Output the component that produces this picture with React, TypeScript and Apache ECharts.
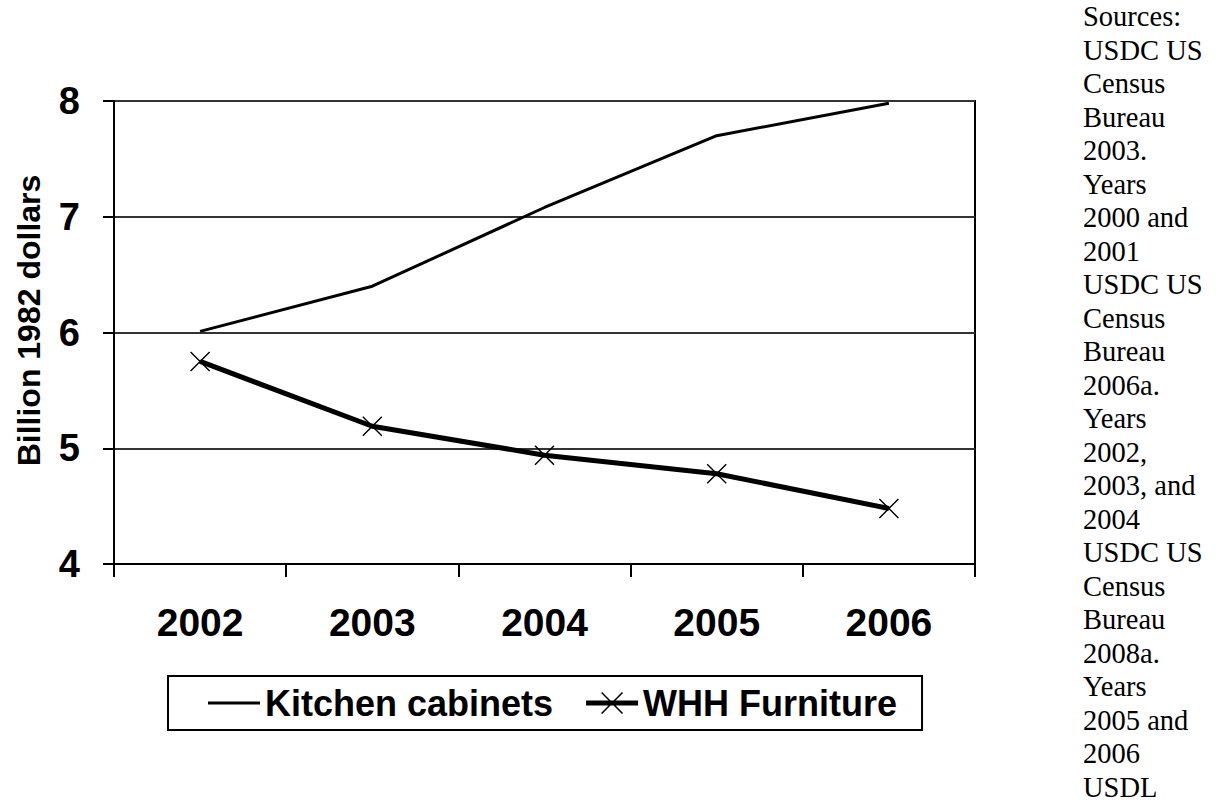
import React, { useEffect, useRef } from "react";
import * as echarts from "echarts";

// Years on the category axis
const years = ["2002", "2003", "2004", "2005", "2006"];

// Shipments, billion 1982 dollars
const kitchenCabinets = [6.01, 6.4, 7.08, 7.7, 7.98];
const whhFurniture = [5.75, 5.19, 4.94, 4.78, 4.48];

// Value axis range
const yMin = 4;
const yMax = 8;
const yStep = 1;

// Source note printed down the right-hand side
const sourceLines = [
  "Sources:",
  "USDC US",
  "Census",
  "Bureau",
  "2003.",
  "Years",
  "2000 and",
  "2001",
  "USDC US",
  "Census",
  "Bureau",
  "2006a.",
  "Years",
  "2002,",
  "2003, and",
  "2004",
  "USDC US",
  "Census",
  "Bureau",
  "2008a.",
  "Years",
  "2005 and",
  "2006",
  "USDL",
];

const SANS = "'Liberation Sans', Arial, Helvetica, sans-serif";
const SERIF = "'Liberation Serif', 'Times New Roman', serif";

// thin filled "x" glyph used as the point marker
const crossSymbol =
  "path://M0,1L1,0L10,9L19,0L20,1L11,10L20,19L19,20L10,11L1,20L0,19L9,10Z";

// legend keys: a plain 3px bar, and a 5px bar with the "x" marker on it
const plainKey = "path://M0,0L52,0L52,3L0,3Z";
const crossKey =
  "path://M0,9.5L52,9.5L52,14.5L0,14.5Z" +
  "M15,2.1L16.1,1L26,10.9L35.9,1L37,2.1L27.1,12L37,21.9L35.9,23L26,13.1L16.1,23L15,21.9L24.9,12Z";

export default function App() {
  const ref = useRef<HTMLDivElement>(null);

  useEffect(() => {
    if (!ref.current) return;
    const chart = echarts.init(ref.current, undefined, { renderer: "svg" });

    chart.setOption({
      animation: false,
      backgroundColor: "#ffffff",
      grid: {
        left: 114,
        top: 101,
        width: 861,
        height: 463,
        show: true,
        borderColor: "#000",
        borderWidth: 2,
        backgroundColor: "transparent",
      },
      xAxis: {
        type: "category",
        data: years,
        boundaryGap: true,
        axisLine: { show: true, lineStyle: { color: "#000", width: 2 } },
        axisTick: {
          show: true,
          length: 13,
          lineStyle: { color: "#000", width: 2 },
        },
        axisLabel: {
          margin: 39,
          color: "#000",
          fontFamily: SANS,
          fontWeight: "bold",
          fontSize: 39,
        },
        splitLine: { show: false },
      },
      yAxis: {
        type: "value",
        min: yMin,
        max: yMax,
        interval: yStep,
        name: "Billion 1982 dollars",
        nameLocation: "middle",
        nameRotate: 90,
        nameGap: 69,
        nameTextStyle: {
          color: "#000",
          fontFamily: SANS,
          fontWeight: "bold",
          fontSize: 32,
          padding: [0, 0, 0, 24],
        },
        axisLine: { show: true, lineStyle: { color: "#000", width: 2 } },
        axisTick: {
          show: true,
          length: 11,
          lineStyle: { color: "#000", width: 2 },
        },
        axisLabel: {
          margin: 34,
          color: "#000",
          fontFamily: SANS,
          fontWeight: "bold",
          fontSize: 38,
        },
        splitLine: { show: true, lineStyle: { color: "#333", width: 2 } },
      },
      legend: {
        left: 168,
        top: 676,
        orient: "horizontal",
        padding: [9, 25, 9, 40],
        itemGap: 33,
        itemWidth: 52,
        itemHeight: 24,
        borderColor: "#000",
        borderWidth: 2,
        textStyle: {
          color: "#000",
          fontFamily: SANS,
          fontWeight: "bold",
          fontSize: 36,
        },
        data: [
          { name: "Kitchen cabinets", icon: plainKey },
          { name: "WHH Furniture", icon: crossKey },
        ],
      },
      series: [
        {
          name: "Kitchen cabinets",
          type: "line",
          data: kitchenCabinets,
          symbol: "none",
          showSymbol: false,
          lineStyle: { color: "#000", width: 3 },
          itemStyle: { color: "#000" },
        },
        {
          name: "WHH Furniture",
          type: "line",
          data: whhFurniture,
          symbol: crossSymbol,
          symbolSize: 20,
          lineStyle: { color: "#000", width: 5 },
          itemStyle: { color: "#000" },
          z: 3,
        },
      ],
      graphic: [
        {
          type: "text",
          left: 1083,
          top: 0,
          style: {
            text: sourceLines.join("\n"),
            fill: "#000",
            font: `28.5px ${SERIF}`,
            lineHeight: 33.5,
          },
        },
      ],
    });

    return () => chart.dispose();
  }, []);

  return (
    <div
      ref={ref}
      style={{
        position: "fixed",
        left: 0,
        top: 0,
        width: 1228,
        height: 806,
        background: "#fff",
      }}
    />
  );
}
